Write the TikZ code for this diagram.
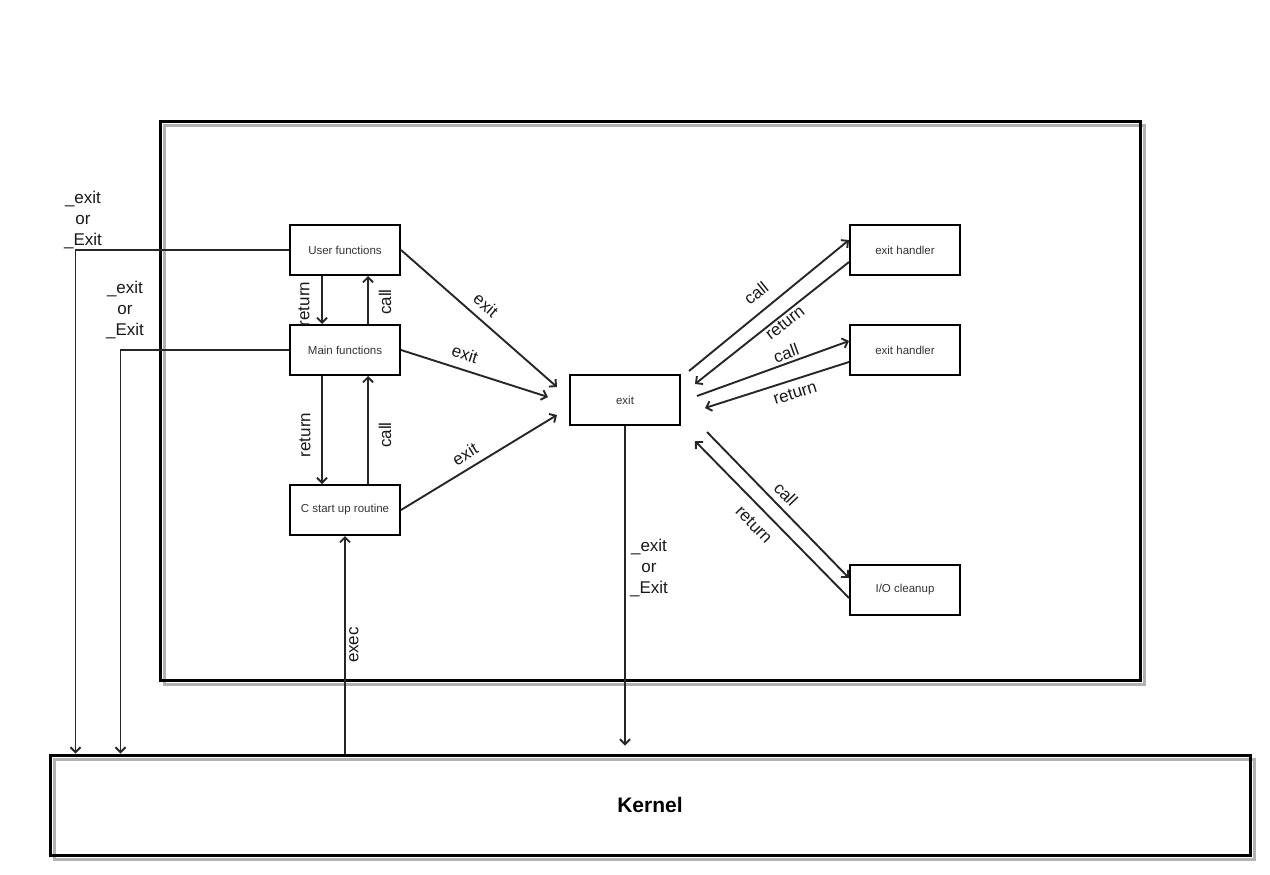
\documentclass[tikz,border=0pt]{standalone}
\usepackage{fontspec}
\setmainfont{Liberation Sans}
\usetikzlibrary{arrows.meta}
\tikzstyle{line} = [draw, line width=1.9pt, black!85, -{Straight Barb[length=5pt,width=10pt]}]
\tikzstyle{fbox} = [rectangle, draw, line width=2pt, minimum width=110pt, minimum height=50pt, inner sep=0pt, text=black!80, font=\fontsize{11.5}{13}\selectfont]
\tikzstyle{bigbox} = [rectangle, draw, line width=3pt, inner sep=0pt]
\tikzstyle{shadowline} = [draw, line width=3pt, black!30]
\tikzstyle{lbl} = [inner sep=1pt, text=black!90, font=\fontsize{17}{21}\selectfont]

\begin{document}
\begin{tikzpicture}[x=1pt, y=-1pt]
		\useasboundingbox (0,0) rectangle (1270,875);

		% outer process box and kernel
		\draw [shadowline] (164,125) rectangle (1144,684);
		\node [bigbox, minimum width=980pt, minimum height=559pt] (process) at (650,400.5) {};
		\draw [shadowline] (54,759) rectangle (1254,859);
		\node [bigbox, minimum width=1200pt, minimum height=100pt, font=\fontsize{21}{24}\selectfont\bfseries] (kernel) at (650,805) {Kernel};

		% functions
		\node [fbox] (user) at (345,250) {User functions};
		\node [fbox] (main) at (345,350) {Main functions};
		\node [fbox] (cstart) at (345,510) {C start up routine};
		\node [fbox] (exit) at (625,400) {exit};
		\node [fbox] (hand1) at (905,250) {exit handler};
		\node [fbox] (hand2) at (905,350) {exit handler};
		\node [fbox] (iocl) at (905,590) {I/O cleanup};

		% call / return between functions
		\path [line] ([xshift=-23pt]user.south) to ([xshift=-23pt]main.north);
		\path [line] ([xshift=23pt]main.north) to ([xshift=23pt]user.south);
		\path [line] ([xshift=-23pt]main.south) to ([xshift=-23pt]cstart.north);
		\path [line] ([xshift=23pt]cstart.north) to ([xshift=23pt]main.south);
		\node [lbl, rotate=90] (ret1) at (304,304) {return};
		\node [lbl, rotate=90] (call1) at (385,302) {call};
		\node [lbl, rotate=90] (ret2) at (305,435) {return};
		\node [lbl, rotate=90] (call2) at (385,435) {call};

		% exit arrows
		\coordinate (exin1) at (557,387);
		\coordinate (exin2) at (548,397);
		\coordinate (exin3) at (557,415);
		\path [line] (user.east) to (exin1);
		\path [line] (main.east) to (exin2);
		\path [line] (cstart.east) to (exin3);
		\node [lbl, rotate=-41] (ex1) at (486,305) {exit};
		\node [lbl, rotate=-18] (ex2) at (465,354) {exit};
		\node [lbl, rotate=31] (ex3) at (465,454) {exit};

		% handlers
		\coordinate (callout1) at (689,371);
		\coordinate (retin1) at (695,384);
		\coordinate (callout2) at (697,396);
		\coordinate (retin2) at (705,408);
		\coordinate (callout3) at (707,432);
		\coordinate (retin3) at (695,441);
		\path [line] (callout1) to ([yshift=10pt]hand1.west);
		\path [line] ([yshift=-12pt]hand1.west) to (retin1);
		\path [line] (callout2) to ([yshift=9pt]hand2.west);
		\path [line] ([yshift=-12pt]hand2.west) to (retin2);
		\path [line] (callout3) to ([yshift=12pt]iocl.west);
		\path [line] ([yshift=-8pt]iocl.west) to (retin3);
		\node [lbl, rotate=39] (hc1) at (756,293) {call};
		\node [lbl, rotate=38] (hr1) at (785,323) {return};
		\node [lbl, rotate=20] (hc2) at (786,353) {call};
		\node [lbl, rotate=17] (hr2) at (795,393) {return};
		\node [lbl, rotate=-46] (hc3) at (786,494) {call};
		\node [lbl, rotate=-46] (hr3) at (754,525) {return};

		% to and from the kernel
		\path [line] (exit.south) to ([yshift=8pt]kernel.north -| exit.south);
		\node [lbl, align=center] (exlbl3) at (649,568) {\_exit\\or\\\_Exit};
		\path [line] (kernel.north -| cstart.south) to (cstart.south);
		\node [lbl, rotate=90] (execlbl) at (354,645) {exec};

		\path [line] (user.west) -| ([xshift=27pt]kernel.north west);
		\path [line] (main.west) -| ([xshift=72pt]kernel.north west);
		\node [lbl, align=center] (exlbl1) at (83,220) {\_exit\\or\\\_Exit};
		\node [lbl, align=center] (exlbl2) at (125,310) {\_exit\\or\\\_Exit};
	\end{tikzpicture}
\end{document}
